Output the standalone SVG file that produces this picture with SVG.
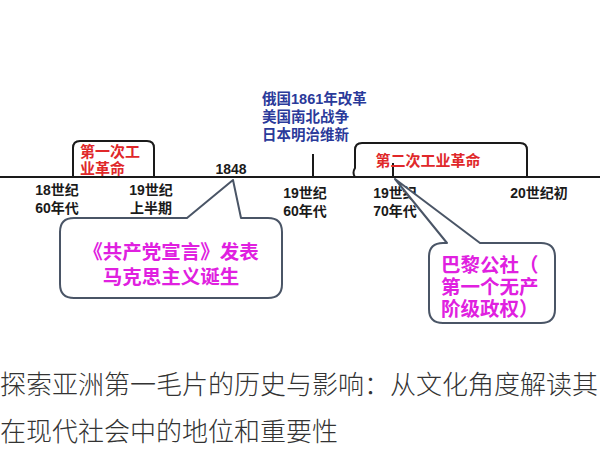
<svg xmlns="http://www.w3.org/2000/svg" width="600" height="449" viewBox="0 0 600 449">
<style>
.t{font-family:"Liberation Sans","Noto Sans CJK SC",sans-serif;font-weight:bold;}
.lab{font-size:14px;fill:#1a1a1a;text-anchor:middle;}
.red{font-size:15px;fill:#e0282a;}
.blue{font-size:14.5px;fill:#2a3a9a;}
.mag{font-size:19.5px;fill:#e020e0;}
.line{stroke:#1a1a1a;stroke-width:2;fill:none;}
.call{stroke:#4a5566;stroke-width:2;fill:#fff;stroke-linejoin:round;}
.cap{font-family:"Noto Sans CJK SC",sans-serif;font-size:26px;fill:#333;font-weight:300;}
</style>
<rect width="600" height="449" fill="#fff"/>
<g id="connectors">
<line class="line" x1="0" y1="177" x2="600" y2="177"/>
<line class="line" x1="313" y1="154" x2="313" y2="177"/>
<line class="line" x1="393" y1="163" x2="393" y2="177"/>
</g>
<g id="first-industrial-revolution">
<path class="line" d="M73,177 V148 Q73,141 80,141 H147 Q154,141 154,148 V177"/>
<text class="t red" x="80" y="157">第一次工</text>
<text class="t red" x="80" y="174">业革命</text>
</g>
<g id="second-industrial-revolution">
<path class="line" d="M355,177 Q352,173 355,168 V150 Q355,143 362,143 H520 Q527,143 527,150 V177"/>
<text class="t red" x="428" y="166" text-anchor="middle">第二次工业革命</text>
</g>
<g id="events-1861">
<text class="t blue" x="262" y="104">俄国1861年改革</text>
<text class="t blue" x="262" y="122">美国南北战争</text>
<text class="t blue" x="262" y="140">日本明治维新</text>
</g>
<g id="label-1848"><text class="t lab" x="231" y="174">1848</text></g>
<g id="label-18c60">
<text class="t lab" x="57" y="195">18世纪</text>
<text class="t lab" x="57" y="213">60年代</text>
</g>
<g id="label-19c-early">
<text class="t lab" x="151" y="195">19世纪</text>
<text class="t lab" x="151" y="213">上半期</text>
</g>
<g id="label-19c60">
<text class="t lab" x="305" y="198">19世纪</text>
<text class="t lab" x="305" y="216">60年代</text>
</g>
<g id="label-19c70">
<text class="t lab" x="395" y="198">19世纪</text>
<text class="t lab" x="395" y="216">70年代</text>
</g>
<g id="label-20c">
<text class="t lab" x="539" y="198">20世纪初</text>
</g>
<g id="callout-manifesto">
<path class="call" d="M187,218 L233,180 L241,218 H268 Q282,218 282,232 V284 Q282,298 268,298 H74 Q60,298 60,284 V232 Q60,218 74,218 Z"/>
<text class="t mag" x="171" y="259" text-anchor="middle">《共产党宣言》发表</text>
<text class="t mag" x="171" y="284" text-anchor="middle">马克思主义诞生</text>
</g>
<g id="callout-commune">
<path class="call" d="M447,243 L395,179 L480,243 H541 Q555,243 555,257 V309 Q555,323 541,323 H443 Q429,323 429,309 V257 Q429,243 443,243 Z"/>
<text class="t mag" x="441" y="272">巴黎公社（</text>
<text class="t mag" x="441" y="294">第一个无产</text>
<text class="t mag" x="441" y="316">阶级政权）</text>
</g>
<g id="caption">
<text class="cap" x="0" y="394">探索亚洲第一毛片的历史与影响：从文化角度解读其</text>
<text class="cap" x="0" y="441">在现代社会中的地位和重要性</text>
</g>
</svg>
